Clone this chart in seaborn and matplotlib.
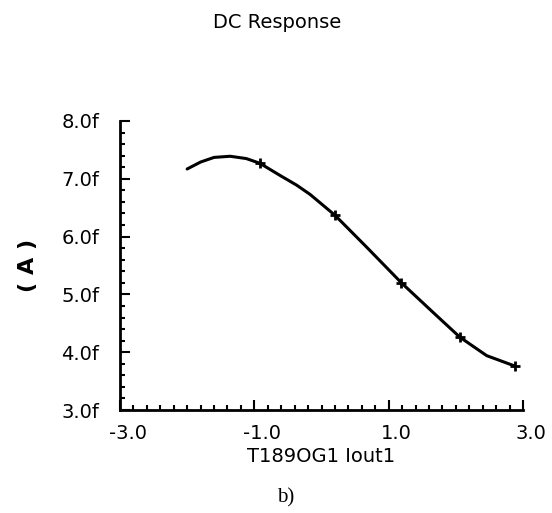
import matplotlib
matplotlib.use("Agg")
import matplotlib.pyplot as plt
import matplotlib.transforms as mtransforms
from matplotlib.ticker import MultipleLocator, FixedLocator
import seaborn as sns
import pandas as pd

# ---- data ----
x_curve = [-2.0, -1.8, -1.6, -1.36, -1.12, -0.92, -0.62, -0.37, -0.17, 0.2,
           0.67, 1.19, 1.66, 2.06, 2.46, 2.88]
y_curve = [7.17, 7.29, 7.37, 7.39, 7.35, 7.27, 7.06, 6.89, 6.73, 6.37,
           5.82, 5.20, 4.69, 4.26, 3.94, 3.76]
x_marks = [-0.92, 0.2, 1.19, 2.06, 2.88]
y_marks = [7.27, 6.37, 5.20, 4.26, 3.76]
x_ticks = [-3.0, -1.0, 1.0, 3.0]
x_ticklabels = ["-3.0", "-1.0", "1.0", "3.0"]
y_ticks = [3.0, 4.0, 5.0, 6.0, 7.0, 8.0]
y_ticklabels = ["3.0f", "4.0f", "5.0f", "6.0f", "7.0f", "8.0f"]
title = "DC Response"
x_label = "T189OG1 Iout1"
y_label = "( A )"
caption = "b)"

sns.set_theme(style="white")
plt.rcParams["font.family"] = ["DejaVu Sans"]

df_curve = pd.DataFrame({"x": x_curve, "y": y_curve})
df_marks = pd.DataFrame({"x": x_marks, "y": y_marks})

fig = plt.figure(figsize=(5.52, 5.13), dpi=100)
ax = fig.add_axes([120 / 552, 103 / 513, 403 / 552, 289 / 513])

sns.lineplot(data=df_curve, x="x", y="y", ax=ax, color="black", linewidth=2.2)
sns.scatterplot(data=df_marks, x="x", y="y", ax=ax, color="black", marker="+",
                s=60, linewidth=2.0, zorder=5)

ax.set_xlim(-3.0, 3.0)
ax.set_ylim(3.0, 8.0)

for side in ["top", "right"]:
    ax.spines[side].set_visible(False)
for side in ["left", "bottom"]:
    ax.spines[side].set_color("black")
    ax.spines[side].set_linewidth(2.0)

ax.xaxis.set_major_locator(FixedLocator(x_ticks))
ax.set_xticklabels(x_ticklabels)
ax.xaxis.set_minor_locator(MultipleLocator(0.2))
ax.yaxis.set_major_locator(FixedLocator(y_ticks))
ax.set_yticklabels(y_ticklabels)
ax.yaxis.set_minor_locator(MultipleLocator(0.2))

ax.tick_params(axis="both", which="major", direction="in", length=7, width=1.5,
               color="black", labelsize=14, labelcolor="black")
ax.tick_params(axis="both", which="minor", direction="in", length=3.5, width=1.5,
               color="black")
ax.tick_params(axis="x", which="both", bottom=True, pad=10)
ax.tick_params(axis="y", which="both", left=True, pad=15)

offset = mtransforms.ScaledTranslation(0.08, 0, fig.dpi_scale_trans)
for lbl in ax.get_xticklabels():
    lbl.set_transform(lbl.get_transform() + offset)

ax.set_xlabel(x_label, fontsize=14, color="black", labelpad=3)
ax.set_ylabel(y_label, fontsize=16, color="black", labelpad=17, fontweight="bold")

fig.text(0.502, 1 - 22 / 513, title, ha="center", va="center", fontsize=14,
         color="black")
fig.text(286 / 552, 1 - 498 / 513, caption, ha="center", va="center",
         fontsize=15, color="black", family=["Liberation Serif", "DejaVu Serif"])

fig.savefig("out.png", dpi=100)
